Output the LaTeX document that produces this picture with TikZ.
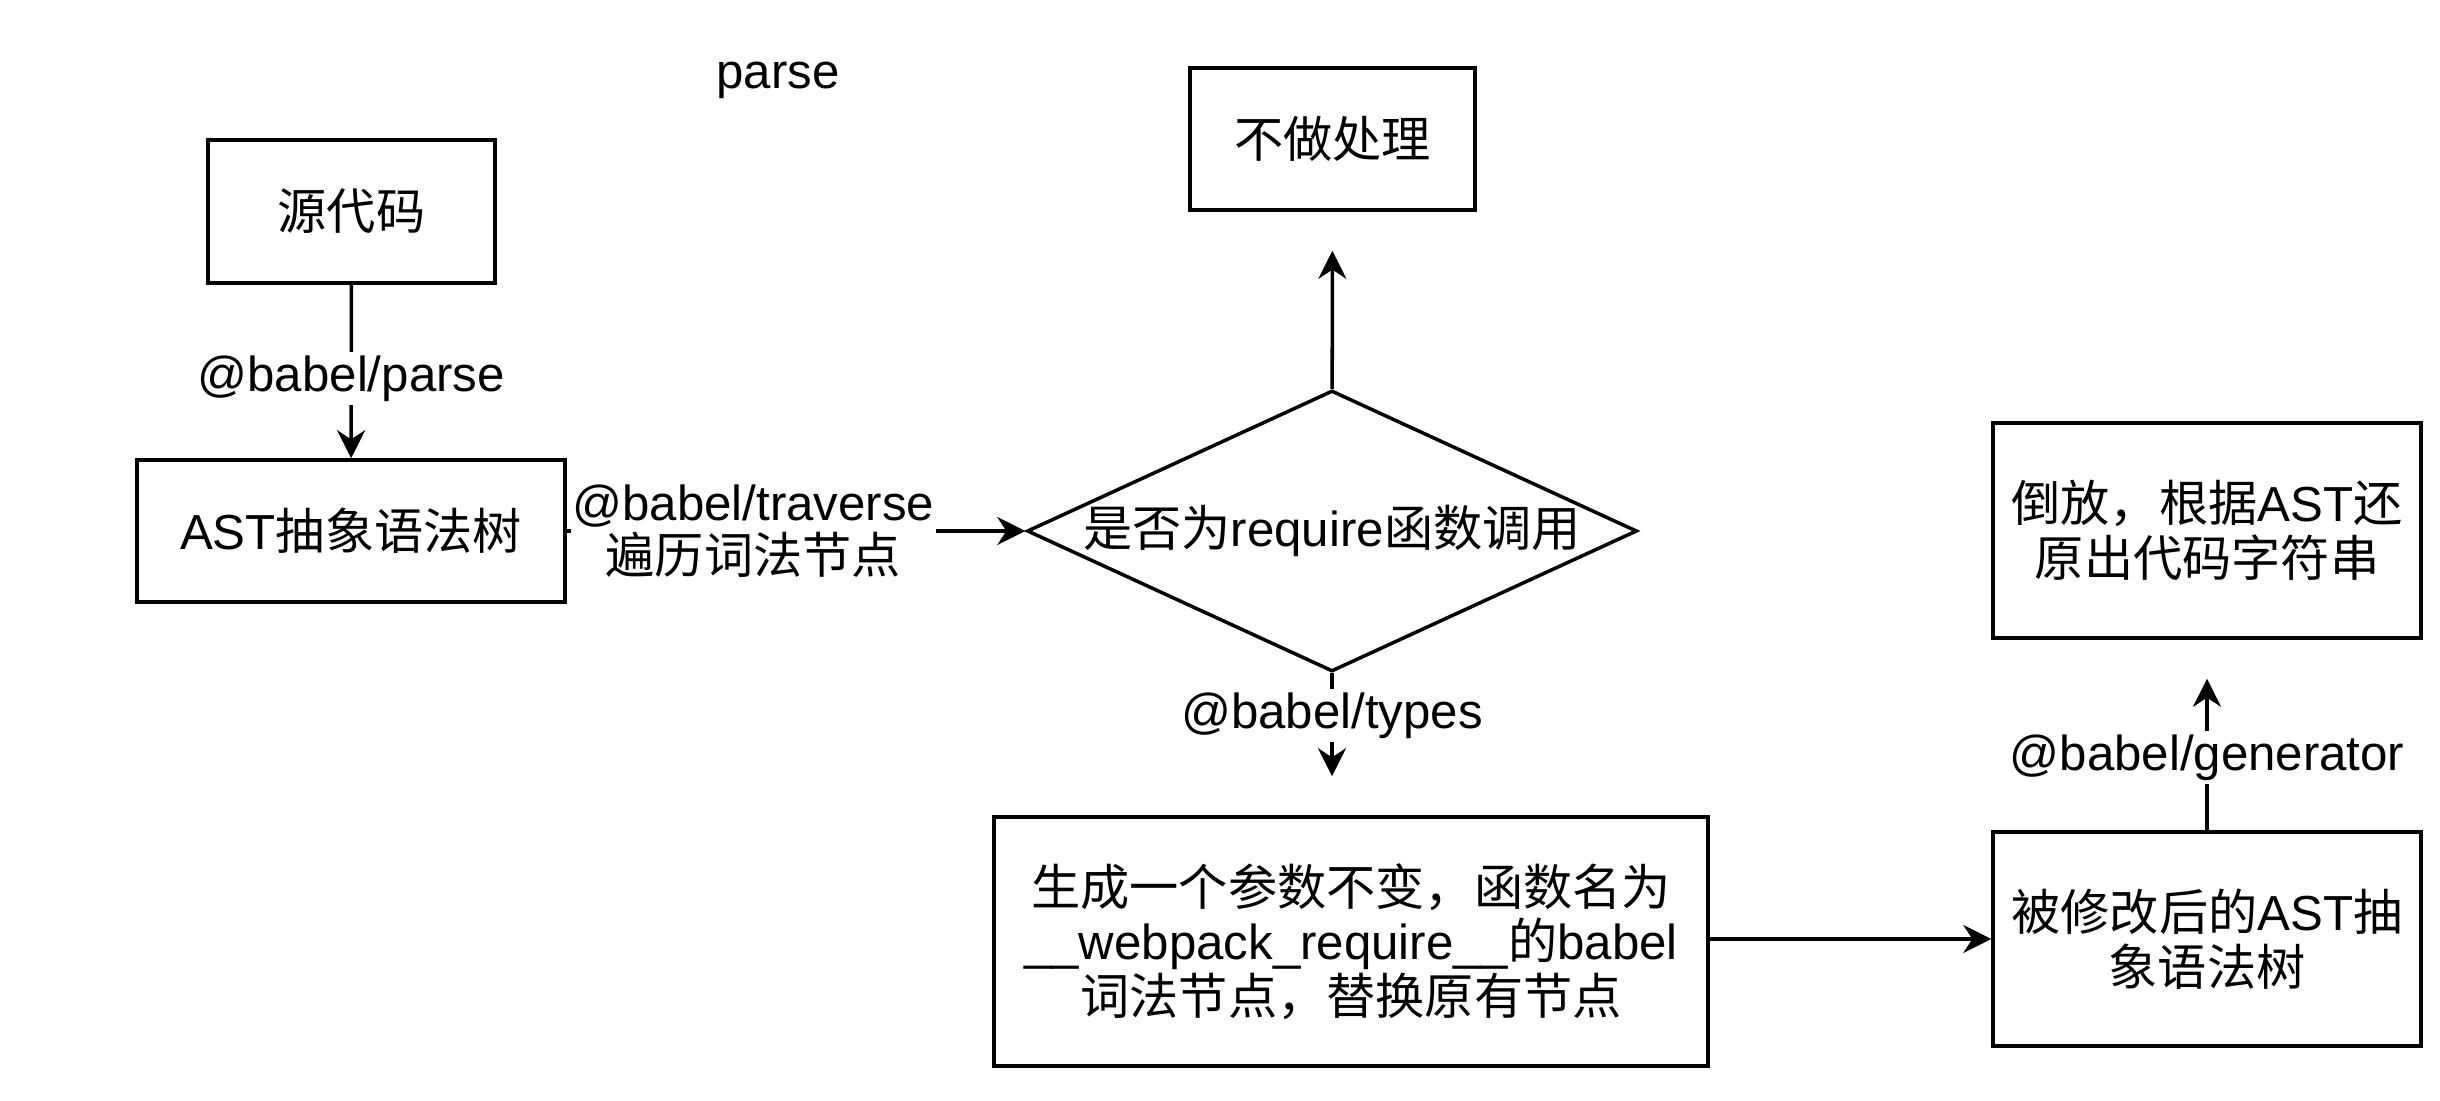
\documentclass[tikz,border=0pt]{standalone}
\usepackage{fontspec}
\setmainfont{Liberation Sans}
\newfontfamily\cjk{Noto Sans CJK SC}
\usetikzlibrary{shapes.geometric,arrows.meta}

\begin{document}
\begin{tikzpicture}[
        box/.style = {rectangle, draw=black, line width=1pt, align=center, inner sep=2pt, font=\fontsize{14}{15.5}\selectfont},
        decision/.style = {diamond, draw=black, line width=1pt, minimum width=6.1cm, minimum height=2.81cm, inner sep=0pt},
        tag/.style = {fill=white, align=center, inner sep=1pt, font=\fontsize{14}{15}\selectfont},
        arrow/.style = {line width=1pt, -{Stealth[length=2.8mm, width=2.8mm]}},
        gap/.style = {shorten >=0.39cm}
    ]
    \useasboundingbox (0,0) rectangle (24.4,-11);

    % ================= TITULO =================
    \node[font=\fontsize{14}{15}\selectfont] (title) at (7.78,-0.8) {parse};

    % ================= PARTE IZQUIERDA =================
    \node[box, minimum width=2.87cm, minimum height=1.43cm] (src) at (3.515,-2.115) {\cjk 源代码};
    \node[box, minimum width=4.28cm, minimum height=1.42cm] (ast) at (3.51,-5.31) {AST{\cjk 抽象语法树}};
    %
    \draw[arrow] (src) -- node[tag, pos=0.54] {@babel/parse} (ast);

    % ================= PARTE CENTRAL =================
    \node[decision, label={[font=\fontsize{14}{15}\selectfont]center:{\cjk 是否为}require{\cjk 函数调用}}] (isreq) at (13.32,-5.31) {};
    \node[box, minimum width=2.85cm, minimum height=1.42cm] (nop) at (13.325,-1.39) {\cjk 不做处理};
    \node[box, minimum width=7.14cm, minimum height=2.49cm] (gen) at (13.51,-9.415) {{\cjk 生成一个参数不变，函数名为}\\\_\_webpack\_require\_\_{\cjk 的}babel\\{\cjk 词法节点，替换原有节点}};
    %
    \draw[arrow] (ast) -- node[tag, pos=0.407, inner sep=0.5pt] {@babel/traverse\\{\cjk 遍历词法节点}} (isreq);
    \draw[arrow, gap] (isreq) -- (nop);
    \draw[arrow, gap] (isreq.south) -- node[tag, pos=0.3] {@babel/types} (isreq.south |- gen.north);

    % ================= PARTE DERECHA =================
    \node[box, minimum width=4.28cm, minimum height=2.14cm] (mod) at (22.07,-9.39) {{\cjk 被修改后的}AST{\cjk 抽}\\{\cjk 象语法树}};
    \node[box, minimum width=4.28cm, minimum height=2.15cm] (back) at (22.07,-5.305) {{\cjk 倒放，根据}AST{\cjk 还}\\{\cjk 原出代码字符串}};
    %
    \draw[arrow] (gen.east |- mod) -- (mod);
    \draw[arrow, gap] (mod) -- node[tag, pos=0.38] {@babel/generator} (back);

\end{tikzpicture}
\end{document}
